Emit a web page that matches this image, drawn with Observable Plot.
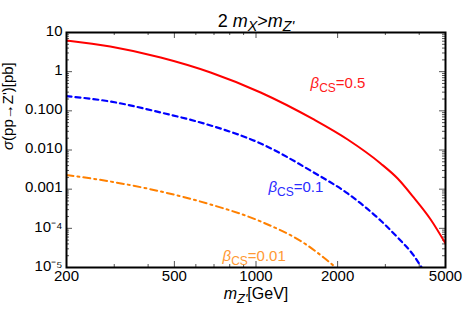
<!DOCTYPE html>
<html>
<head>
<meta charset="utf-8">
<script src="https://cdn.jsdelivr.net/npm/d3@7"></script>
<script src="https://cdn.jsdelivr.net/npm/@observablehq/plot@0.6"></script>
<style>
  html, body { margin: 0; padding: 0; background: #fff; }
  #chart svg { display: block; }
</style>
</head>
<body>
<div id="chart"></div>
<script>
// ---- data ----
const massRed   = [200, 290, 445, 680, 1040, 1633, 2178, 2882, 3330, 3815, 4408, 5000];
const sigmaRed  = [6.25, 4.4, 2.3, 0.953, 0.294, 0.0601, 0.0185, 0.00453, 0.00187, 6.14e-4, 1.68e-4, 4.1e-5];

const massBlue  = [200, 290, 445, 680, 1040, 1633, 2178, 2882, 3330, 3815, 4084];
const sigmaBlue = [0.2366, 0.173, 0.0908, 0.0423, 0.01466, 0.00267, 7.76e-4, 1.58e-4, 5.83e-5, 2.03e-5, 1.0e-5];

const massOrange  = [200, 290, 445, 680, 1040, 1550, 1776, 1968];
const sigmaOrange = [0.0023, 0.00157, 8.73e-4, 4.06e-4, 1.50e-4, 3.65e-5, 1.80e-5, 1.0e-5];

const seriesLabels = ["βCS=0.5", "βCS=0.1", "βCS=0.01"];
const labelMass    = [1590, 1112, 753];
const labelSigma   = [0.5, 0.0011, 1.95e-5];
const seriesColors = ["#ff0000", "#0000ff", "#ff8000"];
const labelColors  = ["#ff1a1a", "#2a2aff", "#ff9933"];

const xMajor = [200, 500, 1000, 2000, 5000];
const xMinor = [300, 400, 600, 700, 800, 900, 3000, 4000];
const yMajor = [10, 1, 0.1, 0.01, 0.001, 1e-4, 1e-5];
const yTickLabels = ["10", "1", "0.100", "0.010", "0.001", "10⁻⁴", "10⁻⁵"];
const yDecades = [1e-5, 1e-4, 1e-3, 1e-2, 1e-1, 1];
const yMult = [2, 3, 4, 5, 6, 7, 8, 9];
const yMinor = yDecades.flatMap(d => yMult.map(m => d * m));

// ---- layout ----
const W = 463, H = 312;
const mT = 32, mR = 18, mB = 45, mL = 66;
const fW = W - mL - mR, fH = H - mT - mB;
const font = "'Liberation Sans', Arial, Helvetica, sans-serif";

const toRows = (ms, ss) => ms.map((m, i) => ({m, s: ss[i]}));
const labelRows = seriesLabels.map((t, i) => ({t, m: labelMass[i], s: labelSigma[i], c: labelColors[i]}));

const tickStroke = "#555";

const chart = Plot.plot({
  width: W, height: H,
  marginTop: mT, marginRight: mR, marginBottom: mB, marginLeft: mL,
  style: {fontFamily: font, background: "#fff", color: "#000"},
  x: {type: "log", domain: [200, 5000]},
  y: {type: "log", domain: [1e-5, 10]},
  marks: [
    Plot.axisX({ticks: xMajor, tickFormat: d => String(d), tickSize: 0, tickPadding: 3, fontSize: 15, label: null}),
    Plot.axisY({ticks: yMajor, tickFormat: d => yTickLabels[yMajor.indexOf(d)], tickSize: 0, tickPadding: 4, fontSize: 15, dy: -1.5, label: null}),
    // inner ticks, bottom & top
    Plot.tickX(xMajor, {x: d => d, insetTop: fH - 6, stroke: tickStroke}),
    Plot.tickX(xMajor, {x: d => d, insetBottom: fH - 6, stroke: tickStroke}),
    Plot.tickX(xMinor, {x: d => d, insetTop: fH - 3, stroke: tickStroke}),
    Plot.tickX(xMinor, {x: d => d, insetBottom: fH - 3, stroke: tickStroke}),
    // inner ticks, left & right
    Plot.tickY(yMajor, {y: d => d, insetRight: fW - 6, stroke: tickStroke}),
    Plot.tickY(yMajor, {y: d => d, insetLeft: fW - 6, stroke: tickStroke}),
    Plot.tickY(yMinor, {y: d => d, insetRight: fW - 3, stroke: tickStroke}),
    Plot.tickY(yMinor, {y: d => d, insetLeft: fW - 3, stroke: tickStroke}),
    // curves
    Plot.line(toRows(massRed, sigmaRed), {x: "m", y: "s", stroke: seriesColors[0], strokeWidth: 2, curve: "monotone-x", clip: true}),
    Plot.line(toRows(massBlue, sigmaBlue), {x: "m", y: "s", stroke: seriesColors[1], strokeWidth: 2.2, strokeDasharray: "5,4", curve: "monotone-x", clip: true}),
    Plot.line(toRows(massOrange, sigmaOrange), {x: "m", y: "s", stroke: seriesColors[2], strokeWidth: 2, strokeDasharray: "7,4,2,4", curve: "monotone-x", clip: true}),
    // series labels
    Plot.text(labelRows, {x: "m", y: "s", text: "t", fill: "c", textAnchor: "start", fontSize: 15, className: "sublabel"}),
    // frame
    Plot.frame({stroke: "#000", strokeWidth: 2}),
    // title and axis labels
    Plot.text(["2 mX>mZ'"], {frameAnchor: "top", dy: -18, fontSize: 18, text: d => d, className: "ttl"}),
    Plot.text(["mZ'[GeV]"], {frameAnchor: "bottom", dy: 31, fontSize: 16, text: d => d, className: "xlab"}),
    Plot.text(["σ(pp→Z')[pb]"], {frameAnchor: "left", dx: -58, rotate: -90, fontSize: 15, text: d => d, className: "ylab"})
  ]
});

document.getElementById("chart").appendChild(chart);

// ---- rich text (italic / subscripts) ----
const svg = d3.select(chart);
function rich(sel, parts) {
  sel.each(function() {
    const t = d3.select(this);
    t.text(null);
    let shift = 0;
    parts.forEach(p => {
      const ts = t.append("tspan").text(p.s);
      if (p.it) ts.attr("font-style", "italic");
      const target = p.sub ? 4 : 0;
      if (target !== shift) { ts.attr("dy", target - shift); shift = target; }
      if (p.sub) ts.attr("font-size", "0.8em");
    });
  });
}
svg.selectAll(".sublabel text").each(function() {
  const txt = this.textContent;
  const val = txt.replace("βCS", "");
  rich(d3.select(this), [{s: "β", it: true}, {s: "CS", sub: true}, {s: val}]);
});
rich(svg.selectAll(".ttl text"), [{s: "2 "}, {s: "m", it: true}, {s: "X", it: true, sub: true}, {s: ">"}, {s: "m", it: true}, {s: "Z'", it: true, sub: true}]);
rich(svg.selectAll(".xlab text"), [{s: "m", it: true}, {s: "Z'", it: true, sub: true}, {s: "[GeV]"}]);
rich(svg.selectAll(".ylab text"), [{s: "σ", it: true}, {s: "(pp→Z')[pb]"}]);
</script>
</body>
</html>
